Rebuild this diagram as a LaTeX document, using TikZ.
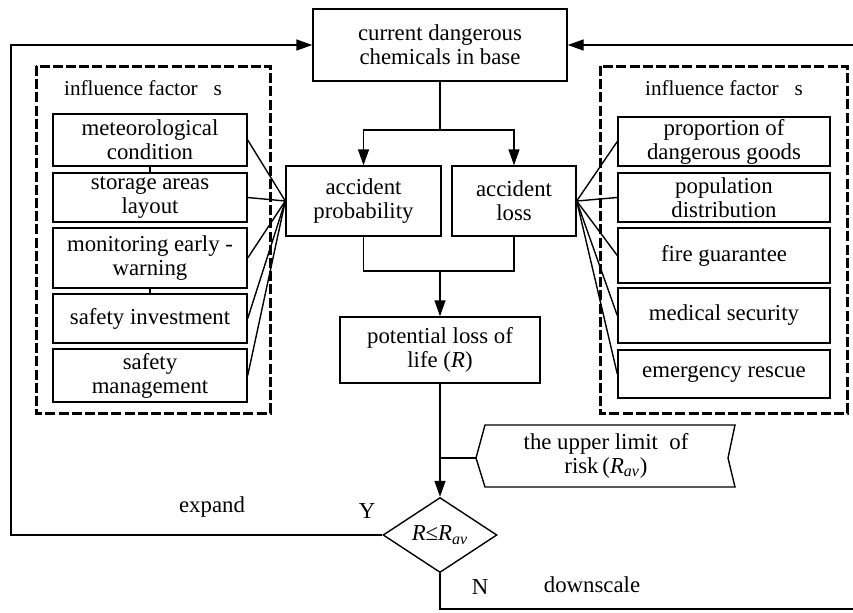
\documentclass[tikz,border=0pt]{standalone}
\usepackage{fontspec}
\setmainfont{Liberation Serif}
\usetikzlibrary{arrows.meta}
\usetikzlibrary{shapes.geometric}

\tikzset{
  txt/.style={font=\fontsize{11.4}{12}\selectfont},
  title/.style={font=\fontsize{10.6}{12}\selectfont},
  box/.style={txt, draw, line width=0.7pt, align=center, inner sep=1pt},
  groupbox/.style={draw, line width=1.5pt, dash pattern=on 5pt off 1.6pt},
  link/.style={line width=0.7pt},
  arr/.style={link, -{Triangle[length=8pt,width=5.5pt]}},
}

\begin{document}
\begin{tikzpicture}[x=0.5pt,y=-0.5pt]
        \useasboundingbox (0,0) rectangle (853,612);

        % main chain
        \node[box, minimum width=127pt, minimum height=36pt] (base) at (440,45) {current dangerous\\chemicals in base};
        \node[box, minimum width=77.5pt, minimum height=35pt] (prob) at (363.5,201) {accident\\probability};
        \node[box, minimum width=62pt, minimum height=35pt] (loss) at (514,201) {accident\\loss};
        \node[box, minimum width=100pt, minimum height=33pt] (pll) at (440,350) {potential loss of\\life (\textit{R})};
        \node[txt, draw, diamond, line width=0.7pt, inner sep=0pt, minimum width=57pt, minimum height=37.5pt] (check) at (440,535) {\textit{R}≤\textit{R}\textsubscript{\textit{av}}};

        % upper limit of risk
        \node[txt, align=center] (limit) at (606,456) {the upper limit\ \ of\\risk\,(\textit{R}\textsubscript{\textit{av}})};
        \coordinate (limtip) at (476,458);
        \draw[link] (limtip) -- (485,425) -- (735,425) -- (728,458) -- (735,487) -- (485,487) -- cycle;

        % influence factors, left
        \draw[groupbox] (36,66) rectangle (270,413);
        \node[title] (lefttitle) at (143,88) {influence factor\ \ \ s};
        \node[box, minimum width=97pt, minimum height=26pt] (meteo) at (150,140) {meteorological\\condition};
        \node[box, minimum width=97pt, minimum height=24.5pt] (storage) at (150,197.5) {storage areas\\layout};
        \node[box, minimum width=97pt, minimum height=30pt] (monitor) at (150,258) {monitoring early -\\warning};
        \node[box, minimum width=97pt, minimum height=24.5pt] (invest) at (150,318.5) {safety investment};
        \node[box, minimum width=97pt, minimum height=26.5pt] (manage) at (150,375.5) {safety\\management};

        % influence factors, right
        \draw[groupbox] (600,66) rectangle (847,413);
        \node[title] (righttitle) at (724,88) {influence factor\ \ \ s};
        \node[box, minimum width=106pt, minimum height=24.5pt] (goods) at (724,141.5) {proportion of\\dangerous goods};
        \node[box, minimum width=106pt, minimum height=24.5pt] (people) at (724,197.5) {population\\distribution};
        \node[box, minimum width=106pt, minimum height=27.5pt] (fire) at (724,255.5) {fire guarantee};
        \node[box, minimum width=106pt, minimum height=27.5pt] (medical) at (724,315.5) {medical security};
        \node[box, minimum width=106pt, minimum height=24pt] (rescue) at (724,374) {emergency rescue};

        % small joints between factor boxes
        \draw[link] (meteo.south) -- (storage.north);
        \draw[link] (monitor.south) -- (invest.north);

        \foreach \f in {meteo,storage,monitor,invest,manage} {
            \draw[link] (\f.east) -- (prob.west);
        }
        \foreach \f in {goods,people,fire,medical,rescue} {
            \draw[link] (\f.west) -- (loss.east);
        }

        % split and merge
        \coordinate (split) at (440,130);
        \coordinate (merge) at (440,271);
        \draw[link] (base.south) -- (split);
        \draw[arr] (split) -| (prob.north);
        \draw[arr] (split) -| (loss.north);
        \draw[link] (prob.south) |- (merge);
        \draw[link] (loss.south) |- (merge);
        \draw[arr] (merge) -- (pll.north);
        \draw[arr] (pll.south) -- (check.north);
        \draw[link] (440,458) -- (limtip);

        % feedback loops
        \draw[arr] (check.west) -- (11,535) -- (11,45) -- (base.west);
        \draw[arr] (check.south) -- (440,609) -- (860,609) -- (860,45) -- (base.east);

        \node[txt] (expand) at (212,507) {expand};
        \node[txt] (yes) at (367,511) {Y};
        \node[txt] (no) at (480,587) {N};
        \node[txt] (down) at (592,585) {downscale};
    \end{tikzpicture}
\end{document}
